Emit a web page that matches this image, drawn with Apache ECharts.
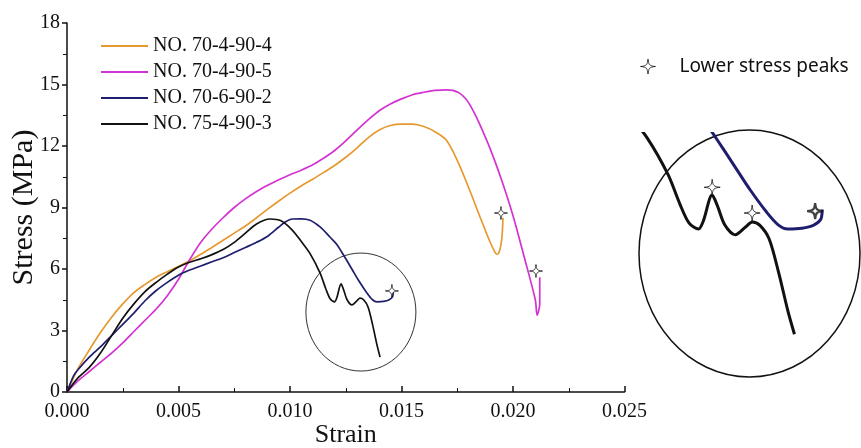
<!DOCTYPE html>
<html><head><meta charset="utf-8">
<script src="https://cdn.jsdelivr.net/npm/echarts@6/dist/echarts.min.js"></script>
<style>html,body{margin:0;padding:0;background:#fff}#c{width:861px;height:448px}</style>
</head><body><div id="c"></div>
<script>
// ---- data (strain, stress MPa) ----
const seriesNames = ['NO. 70-4-90-4', 'NO. 70-4-90-5', 'NO. 70-6-90-2', 'NO. 75-4-90-3'];

const s70_4_90_4 = [[0,0],[0.0005,1.15],[0.001,2.05],[0.0015,2.9],[0.002,3.65],[0.0025,4.3],[0.003,4.85],[0.0035,5.25],
  [0.004,5.6],[0.0045,5.87],[0.005,6.12],[0.0055,6.4],[0.006,6.72],[0.0065,7.05],[0.007,7.4],[0.0075,7.75],
  [0.008,8.1],[0.0085,8.5],[0.009,8.92],[0.0095,9.32],[0.010,9.7],[0.0105,10.05],[0.011,10.37],[0.0115,10.7],
  [0.012,11.05],[0.0125,11.45],[0.013,11.9],[0.0135,12.4],[0.014,12.78],[0.0145,13.0],[0.015,13.07],[0.0155,13.07],
  [0.016,12.95],[0.0165,12.7],[0.017,12.3],[0.0175,11.3],[0.018,10.0],[0.0185,8.6],[0.0189,7.5],[0.0192,6.8],
  [0.0193,6.72],[0.0194,6.9],[0.0195,7.5],[0.01955,8.5]];

const s70_4_90_5 = [[0,0],[0.0005,0.55],[0.001,1.0],[0.0015,1.45],[0.002,1.9],[0.0025,2.4],[0.003,2.95],[0.0035,3.5],
  [0.004,4.05],[0.0045,4.7],[0.005,5.5],[0.0055,6.45],[0.006,7.3],[0.0065,7.95],[0.007,8.5],[0.0075,9.0],
  [0.008,9.42],[0.0085,9.78],[0.009,10.08],[0.0095,10.35],[0.010,10.6],[0.0105,10.82],[0.011,11.07],[0.0115,11.4],
  [0.012,11.78],[0.0125,12.25],[0.013,12.77],[0.0135,13.27],[0.014,13.72],[0.0145,14.05],[0.015,14.3],[0.0155,14.5],
  [0.016,14.62],[0.0165,14.71],[0.017,14.74],[0.0173,14.71],[0.0176,14.58],[0.0179,14.28],[0.0182,13.75],[0.0185,13.08],
  [0.019,11.8],[0.0195,10.3],[0.020,8.6],[0.0205,6.6],[0.021,4.5],[0.02108,3.75],[0.0212,4.3],[0.0212,5.6]];

const s70_6_90_2 = [[0,0],[0.0003,0.8],[0.0005,1.1],[0.001,1.7],[0.0015,2.2],[0.002,2.75],[0.0025,3.3],[0.003,3.85],
  [0.0035,4.45],[0.004,4.95],[0.0045,5.35],[0.005,5.7],[0.0055,5.95],[0.006,6.15],[0.0065,6.35],[0.007,6.55],
  [0.0075,6.8],[0.008,7.05],[0.0085,7.3],[0.009,7.6],[0.0095,8.05],[0.0098,8.3],[0.0101,8.44],[0.0105,8.45],
  [0.0109,8.38],[0.01135,8.05],[0.0118,7.55],[0.0121,7.2],[0.0125,6.5],[0.0128,5.95],[0.0131,5.4],[0.01345,4.83],
  [0.0137,4.5],[0.0139,4.4],[0.0142,4.42],[0.01445,4.5],[0.0146,4.65],[0.01463,4.9]];

const s75_4_90_3 = [[0,0],[0.0005,0.7],[0.001,1.2],[0.0015,1.9],[0.002,2.75],[0.0025,3.6],[0.003,4.3],[0.0035,4.9],
  [0.004,5.35],[0.0045,5.75],[0.005,6.1],[0.0055,6.33],[0.006,6.5],[0.0065,6.7],[0.007,6.95],[0.0075,7.3],
  [0.008,7.75],[0.0085,8.2],[0.0091,8.44],[0.0096,8.35],[0.0101,7.9],[0.0105,7.35],[0.0109,6.75],[0.01135,5.8],
  [0.0116,5.05],[0.0118,4.55],[0.0120,4.4],[0.0121,4.6],[0.01229,5.27],[0.0124,5.0],[0.01256,4.5],[0.01278,4.25],
  [0.0130,4.45],[0.01314,4.58],[0.0133,4.5],[0.0135,4.15],[0.0137,3.3],[0.0139,2.3],[0.01404,1.7]];

const peaksLabel = 'Lower stress peaks';
const lowerPeaksMain = [[0.01946,8.73],[0.02103,5.90],[0.01457,4.93]];
const lowerPeaksInset = [[0.01229,5.47],[0.01314,4.81],[0.01448,4.86]];

// ---- styles ----
const colors = ['#E5992F', '#D233D2', '#1E1E6E', '#111111'];
const serif = 'Liberation Serif';
const starPath = 'path://M0,-10 C0.8,-2 2,-0.8 10,0 C2,0.8 0.8,2 0,10 C-0.8,2 -2,0.8 -10,0 C-2,-0.8 -0.8,-2 0,-10 Z';

const mainData = [s70_4_90_4, s70_4_90_5, s70_6_90_2, s75_4_90_3];

const series = mainData.map((d, i) => ({
  name: seriesNames[i], type: 'line', data: d, xAxisIndex: 0, yAxisIndex: 0,
  showSymbol: false, smooth: 0.3, lineStyle: { width: 1.7, color: colors[i] }, itemStyle: { color: colors[i] },
  z: 3
}));
// inset (magnified) copies of the two curves in the circled region
[2, 3].forEach(i => series.push({
  name: 'inset ' + seriesNames[i], type: 'line', data: mainData[i], xAxisIndex: 1, yAxisIndex: 1,
  showSymbol: false, smooth: 0.3, lineStyle: { width: 3, color: colors[i] }, itemStyle: { color: colors[i] }, z: 3
}));
series.push({
  name: peaksLabel, type: 'scatter', data: lowerPeaksMain, xAxisIndex: 0, yAxisIndex: 0,
  symbol: starPath, symbolSize: 13, itemStyle: { color: '#fff', borderColor: '#111', borderWidth: 1 }, z: 5
});
series.push({
  name: 'inset peaks', type: 'scatter', xAxisIndex: 1, yAxisIndex: 1,
  data: lowerPeaksInset.map((p, k) => ({ value: p, itemStyle: k === 2 ? { borderWidth: 2.2 } : {} })),
  symbol: starPath, symbolSize: 16, itemStyle: { color: '#fff', borderColor: '#111', borderWidth: 1 }, z: 5
});

const chart = echarts.init(document.getElementById('c'), null, { renderer: 'canvas' });
chart.setOption({
  animation: false,
  backgroundColor: '#fff',
  textStyle: { fontFamily: serif },
  grid: [
    { left: 67, top: 23, width: 557.5, height: 369, containLabel: false, outerBoundsMode: 'none' },
    { left: 628, top: 133.5, width: 221, height: 228, containLabel: false, outerBoundsMode: 'none' }
  ],
  legend: [
    {
      data: seriesNames, orient: 'vertical', left: 96, top: 31, itemWidth: 47, itemHeight: 2, itemGap: 6,
      icon: 'rect', textStyle: { fontFamily: serif, fontSize: 20, color: '#111', lineHeight: 20 }
    },
    {
      data: [peaksLabel], left: 635, top: 52, itemWidth: 15, itemHeight: 15, itemGap: 0,
      icon: starPath, itemStyle: { color: '#fff', borderColor: '#111', borderWidth: 1 },
      textStyle: { fontFamily: 'Noto Sans', fontSize: 19, color: '#111', padding: [0, 0, 0, 19] }
    }
  ],
  xAxis: [
    {
      type: 'value', gridIndex: 0, min: 0, max: 0.025, interval: 0.005,
      name: 'Strain', nameLocation: 'middle', nameGap: 30, nameMoveOverlap: false,
      nameTextStyle: { fontFamily: serif, fontSize: 26, color: '#111' },
      axisLine: { show: true, lineStyle: { color: '#111', width: 1.5 } },
      axisTick: { show: true, inside: true, length: 6, lineStyle: { color: '#111', width: 1.5 } },
      minorTick: { show: true, splitNumber: 2, length: 4, lineStyle: { color: '#111', width: 1 } },
      axisLabel: { fontFamily: serif, fontSize: 20, color: '#111', margin: 10, formatter: v => v.toFixed(3) },
      splitLine: { show: false }
    },
    {
      type: 'value', gridIndex: 1, min: 0.0105, max: 0.0152, show: false, splitLine: { show: false }
    }
  ],
  yAxis: [
    {
      type: 'value', gridIndex: 0, min: 0, max: 18, interval: 3,
      name: 'Stress (MPa)', nameLocation: 'middle', nameGap: 28, nameRotate: 90, nameMoveOverlap: false,
      nameTextStyle: { fontFamily: serif, fontSize: 30, color: '#111' },
      axisLine: { show: true, lineStyle: { color: '#111', width: 1.5 } },
      axisTick: { show: true, inside: false, length: 5, lineStyle: { color: '#111', width: 1.5 } },
      minorTick: { show: true, splitNumber: 2, length: 4, lineStyle: { color: '#111', width: 1 } },
      axisLabel: { fontFamily: serif, fontSize: 20, color: '#111', margin: 7 },
      splitLine: { show: false }
    },
    {
      type: 'value', gridIndex: 1, min: 1.0, max: 6.85, show: false, splitLine: { show: false }
    }
  ],
  series: series
});

// annotation circles around the magnified region
const mainCenter = chart.convertToPixel({ gridIndex: 0 }, [0.01318, 3.9]);
chart.setOption({
  graphic: [
    { type: 'ellipse', shape: { cx: mainCenter[0], cy: mainCenter[1], rx: 55, ry: 59 },
      style: { fill: 'none', stroke: '#333', lineWidth: 1 }, z: 1 },
    { type: 'ellipse', shape: { cx: 749.5, cy: 253.5, rx: 110.5, ry: 123.5 },
      style: { fill: 'none', stroke: '#111', lineWidth: 1.5 }, z: 1 }
  ]
});
</script></body></html>
